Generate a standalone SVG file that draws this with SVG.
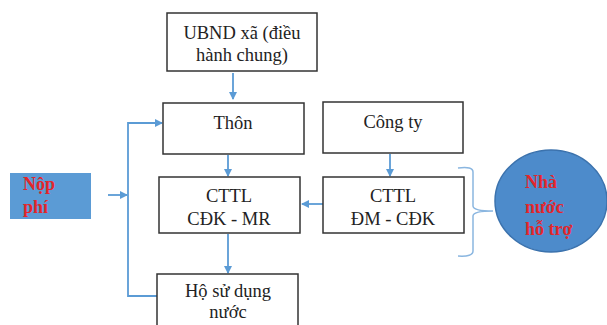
<svg xmlns="http://www.w3.org/2000/svg" width="607" height="325" viewBox="0 0 607 325">
<style>
.box{fill:#fff;stroke:#333;stroke-width:1.5}
.t{font-family:'Liberation Serif','Tinos','Times New Roman','DejaVu Serif',serif;font-size:18.5px;fill:#222;text-anchor:middle}
.r{font-family:'Liberation Serif','Tinos','Times New Roman','DejaVu Serif',serif;font-size:18px;font-weight:bold;fill:#e3262b}
.c{fill:none;stroke:#5b9bd5;stroke-width:1.8}
</style>
<defs>
<marker id="ah" markerWidth="8" markerHeight="8" refX="7" refY="4" orient="auto" markerUnits="userSpaceOnUse">
<path d="M0,0 L8,4 L0,8 Z" fill="#5b9bd5"/>
</marker>
</defs>
<rect width="607" height="325" fill="#fff"/>
<g id="connectors">
<line class="c" x1="233" y1="73" x2="233" y2="99" marker-end="url(#ah)"/>
<line class="c" x1="228" y1="155" x2="228" y2="176" marker-end="url(#ah)"/>
<line class="c" x1="228" y1="234" x2="228" y2="273" marker-end="url(#ah)"/>
<line class="c" x1="390" y1="154" x2="390" y2="176" marker-end="url(#ah)"/>
<line class="c" x1="323" y1="204" x2="302" y2="204" marker-end="url(#ah)"/>
<polyline class="c" points="157,296 128,296 128,123 162,123" marker-end="url(#ah)"/>
<line class="c" x1="108" y1="195" x2="127" y2="195" marker-end="url(#ah)"/>
<path d="M458,168 Q473,166 473,172 L473,206 Q473,211 493,211 Q473,211 473,216 L473,251 Q473,257 458,256" fill="none" stroke="#8ab6e0" stroke-width="1.5"/>
</g>
<g id="ubnd">
<rect class="box" x="167" y="13" width="150" height="58"/>
<text class="t" x="242" y="39">UBND xã (điều</text>
<text class="t" x="242" y="61">hành chung)</text>
</g>
<g id="thon">
<rect class="box" x="163" y="103" width="141" height="51"/>
<text class="t" x="233" y="129">Thôn</text>
</g>
<g id="congty">
<rect class="box" x="323" y="102" width="140" height="51"/>
<text class="t" x="393" y="128">Công ty</text>
</g>
<g id="cttl-cdk-mr">
<rect class="box" x="159" y="177" width="141" height="56"/>
<text class="t" x="229" y="202">CTTL</text>
<text class="t" x="229" y="225">CĐK - MR</text>
</g>
<g id="cttl-dm-cdk">
<rect class="box" x="323" y="177" width="141" height="56"/>
<text class="t" x="393" y="202">CTTL</text>
<text class="t" x="393" y="225">ĐM - CĐK</text>
</g>
<g id="ho">
<rect class="box" x="157" y="274" width="141" height="60"/>
<text class="t" x="228" y="297">Hộ sử dụng</text>
<text class="t" x="228" y="318">nước</text>
</g>
<g id="nopphi">
<rect x="10" y="173" width="81" height="46" fill="#5b9bd5"/>
<text class="r" x="23" y="190">Nộp</text>
<text class="r" x="23" y="213">phí</text>
</g>
<g id="nhanuoc">
<ellipse cx="551" cy="201" rx="56" ry="51" fill="#4d8bcb" stroke="#3b72ad" stroke-width="1.5"/>
<text class="r" x="525" y="188">Nhà</text>
<text class="r" x="525" y="213">nước</text>
<text class="r" x="525" y="235">hỗ trợ</text>
</g>
</svg>
